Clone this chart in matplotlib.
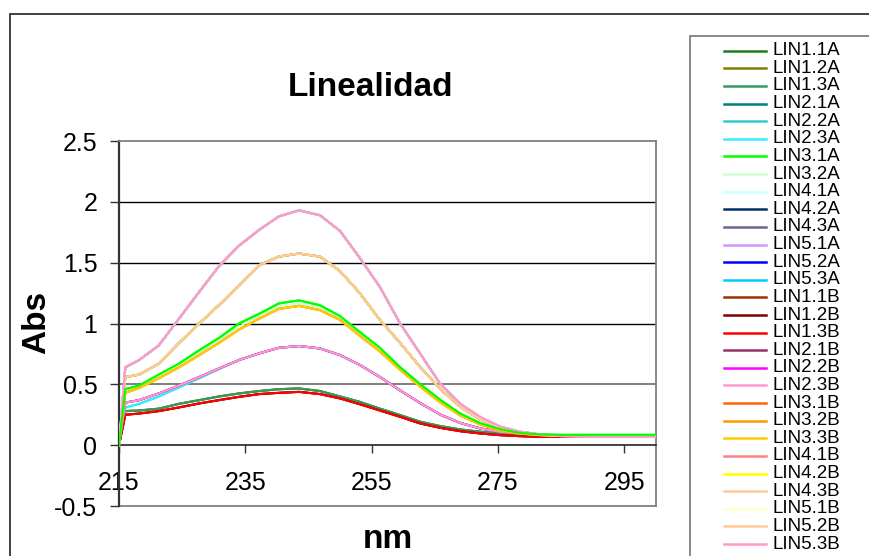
import matplotlib
matplotlib.use('Agg')
import matplotlib.pyplot as plt
from matplotlib.lines import Line2D
from matplotlib.patches import Rectangle

plt.rcParams['font.family'] = ['Liberation Sans', 'DejaVu Sans']

wavelength = [215, 216, 218.2, 221.3, 224.5, 227.7, 230.8, 234.0, 237.2, 240.3,
              243.5, 246.8, 250.0, 253.1, 256.3, 259.5, 262.7, 265.9, 269.0,
              272.2, 275.4, 278.5, 281.7, 285, 290, 295, 300]

# absorbance profiles, one per visible group of overlapping curves
lvl1_a = [0, 0.28, 0.285, 0.30, 0.34, 0.37, 0.40, 0.425, 0.445, 0.46, 0.466, 0.445,
          0.40, 0.356, 0.30, 0.247, 0.192, 0.156, 0.129, 0.11, 0.095, 0.088, 0.082,
          0.08, 0.08, 0.08, 0.08]
lvl1_b = [0, 0.25, 0.26, 0.28, 0.31, 0.343, 0.37, 0.397, 0.42, 0.43, 0.438, 0.42,
          0.384, 0.337, 0.285, 0.233, 0.178, 0.142, 0.115, 0.096, 0.082, 0.074, 0.069,
          0.068, 0.068, 0.068, 0.068]
lvl2 = [0, 0.35, 0.37, 0.425, 0.49, 0.56, 0.63, 0.70, 0.755, 0.80, 0.815, 0.795,
        0.74, 0.66, 0.56, 0.45, 0.345, 0.25, 0.183, 0.137, 0.11, 0.095, 0.085,
        0.078, 0.078, 0.078, 0.078]
lvl2_low = [0, 0.31, 0.34, 0.40, 0.475, 0.55, 0.625, 0.70, 0.755, 0.80, 0.815, 0.795,
            0.74, 0.66, 0.56, 0.45, 0.345, 0.25, 0.183, 0.137, 0.11, 0.095, 0.085,
            0.075, 0.072, 0.072, 0.072]
lvl3_a = [0, 0.46, 0.49, 0.58, 0.67, 0.78, 0.88, 1.00, 1.08, 1.165, 1.19, 1.15,
          1.06, 0.93, 0.80, 0.64, 0.50, 0.37, 0.26, 0.18, 0.13, 0.10, 0.088,
          0.085, 0.085, 0.085, 0.085]
lvl3_mid = [0, 0.445, 0.48, 0.565, 0.655, 0.76, 0.86, 0.975, 1.06, 1.14, 1.165, 1.13,
            1.045, 0.915, 0.785, 0.63, 0.49, 0.36, 0.25, 0.175, 0.125, 0.098, 0.085,
            0.08, 0.08, 0.08, 0.08]
lvl3_b = [0, 0.43, 0.47, 0.55, 0.64, 0.74, 0.84, 0.95, 1.04, 1.12, 1.145, 1.11,
          1.03, 0.90, 0.77, 0.62, 0.48, 0.35, 0.245, 0.17, 0.12, 0.095, 0.082,
          0.075, 0.075, 0.075, 0.075]
lvl4 = [0, 0.56, 0.58, 0.67, 0.84, 1.00, 1.15, 1.31, 1.48, 1.55, 1.575, 1.55,
        1.43, 1.25, 1.03, 0.84, 0.64, 0.46, 0.315, 0.21, 0.14, 0.10, 0.085,
        0.078, 0.075, 0.075, 0.075]
lvl5 = [0, 0.64, 0.70, 0.82, 1.04, 1.26, 1.47, 1.64, 1.77, 1.88, 1.93, 1.89,
        1.76, 1.54, 1.30, 1.00, 0.75, 0.50, 0.34, 0.23, 0.15, 0.11, 0.088,
        0.075, 0.07, 0.07, 0.07]

series_names = ['LIN1.1A', 'LIN1.2A', 'LIN1.3A', 'LIN2.1A', 'LIN2.2A', 'LIN2.3A',
                'LIN3.1A', 'LIN3.2A', 'LIN4.1A', 'LIN4.2A', 'LIN4.3A', 'LIN5.1A',
                'LIN5.2A', 'LIN5.3A', 'LIN1.1B', 'LIN1.2B', 'LIN1.3B', 'LIN2.1B',
                'LIN2.2B', 'LIN2.3B', 'LIN3.1B', 'LIN3.2B', 'LIN3.3B', 'LIN4.1B',
                'LIN4.2B', 'LIN4.3B', 'LIN5.1B', 'LIN5.2B', 'LIN5.3B']
series_data = [lvl1_a, lvl1_a, lvl1_a, lvl2, lvl2_low, lvl2_low,
               lvl3_a, lvl3_mid, lvl4, lvl4, lvl4, lvl5,
               lvl5, lvl5, lvl1_b, lvl1_b, lvl1_b, lvl2,
               lvl2, lvl2, lvl3_b, lvl3_b, lvl3_b, lvl4,
               lvl4, lvl4, lvl5, lvl5, lvl5]
series_colors = ['#1e7b1e', '#808000', '#339966', '#008080', '#33cccc', '#33f0ff',
                 '#00ff00', '#ccffcc', '#ccffff', '#003366', '#666699', '#cc99ff',
                 '#0000ff', '#00ccff', '#993300', '#800000', '#ff0000', '#993366',
                 '#ff00ff', '#ff99cc', '#ff6600', '#ff9900', '#ffcc00', '#ff8080',
                 '#ffff00', '#ffcc99', '#ffffcc', '#ffcc99', '#ff99cc']

y_ticks = [-0.5, 0, 0.5, 1, 1.5, 2, 2.5]
x_ticks = [215, 235, 255, 275, 295]

W, H = 869, 556
fig = plt.figure(figsize=(W / 100, H / 100), dpi=100)
fig.patch.set_facecolor('white')

# outer chart border (runs off the right and bottom edges)
fig.add_artist(Rectangle((10 / W, -0.2), 2.0, 1.2 - 14 / H, transform=fig.transFigure,
                         fill=False, edgecolor='#333333', lw=1.3))

ax = fig.add_axes([119 / W, 1 - 506 / H, (656 - 119) / W, (506 - 141) / H])

for name, vals, col in zip(series_names, series_data, series_colors):
    ax.plot(wavelength, vals, color=col, lw=1.5, label=name, zorder=3)
# the bright green replicate sits on top in the original
ax.plot(wavelength, lvl3_a, color='#00ff00', lw=1.5, zorder=3)

for g in [1, 1.5, 2]:
    ax.axhline(g, color='black', lw=1.0, zorder=1)
ax.axhline(0.5, color='#7f7f7f', lw=1.4, zorder=1)
ax.axhline(-0.5, color='#808080', lw=1.3, clip_on=False, zorder=1)

ax.set_xlim(215, 300)
ax.set_ylim(-0.5, 2.5)
ax.set_xticks(x_ticks)
ax.set_yticks(y_ticks)
ax.set_yticklabels(['-0.5', '0', '0.5', '1', '1.5', '2', '2.5'])

ax.spines['bottom'].set_position(('data', 0))
ax.spines['bottom'].set_color('#222222')
ax.spines['bottom'].set_linewidth(1.2)
ax.spines['left'].set_color('#333333')
ax.spines['left'].set_linewidth(1.6)
for s in ['top', 'right']:
    ax.spines[s].set_color('#808080')
    ax.spines[s].set_linewidth(1.3)

ax.tick_params(axis='x', direction='out', length=5.8, width=1, color='#333333',
               labelsize=18, pad=13)
ax.tick_params(axis='y', direction='out', length=6.5, width=1, color='#333333',
               labelsize=18, pad=9)

fig.text(371 / W, 1 - 88 / H, 'Linealidad', ha='center', va='center',
         fontsize=24, fontweight='bold')
fig.text(37 / W, 1 - 322 / H, 'Abs', ha='center', va='center', rotation=90,
         fontsize=24, fontweight='bold')
fig.text(388 / W, 1 - 539 / H, 'nm', ha='center', va='center',
         fontsize=24, fontweight='bold')

# legend box, cut off by the figure edge as in the original
fig.add_artist(Rectangle((690 / W, -0.2), 1.0, 1.2 - 36 / H, transform=fig.transFigure,
                         fill=False, edgecolor='#808080', lw=1.3))
for i, (name, col) in enumerate(zip(series_names, series_colors)):
    yy = 1 - (50.7 + i * 17.62) / H
    fig.add_artist(Line2D([724 / W, 766 / W], [yy, yy], color=col, lw=1.8,
                          transform=fig.transFigure))
    fig.text(772 / W, yy, name, ha='left', va='center', fontsize=13.5)

fig.savefig('out.png', dpi=100)
